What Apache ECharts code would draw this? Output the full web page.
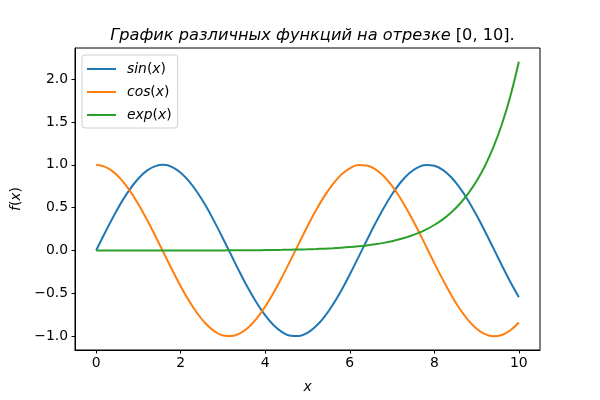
<!DOCTYPE html>
<html>
<head>
<meta charset="utf-8">
<script src="https://cdn.jsdelivr.net/npm/echarts@6/dist/echarts.min.js"></script>
<style>html,body{margin:0;padding:0;background:#fff;}#c{width:600px;height:400px;}</style>
</head>
<body>
<div id="c"></div>
<script>
var xs = [0,0.2,0.4,0.6,0.8,1.0,1.2,1.4,1.6,1.8,2.0,2.2,2.4,2.6,2.8,3.0,3.2,3.4,3.6,3.8,4.0,4.2,4.4,4.6,4.8,5.0,5.2,5.4,5.6,5.8,6.0,6.2,6.4,6.6,6.8,7.0,7.2,7.4,7.6,7.8,8.0,8.2,8.4,8.6,8.8,9.0,9.2,9.4,9.6,9.8,10.0];
var sinVals = [0,0.199,0.389,0.565,0.717,0.841,0.932,0.985,1.000,0.974,0.909,0.808,0.675,0.516,0.335,0.141,-0.058,-0.256,-0.443,-0.612,-0.757,-0.872,-0.952,-0.994,-0.996,-0.959,-0.883,-0.773,-0.631,-0.465,-0.279,-0.083,0.117,0.312,0.494,0.657,0.794,0.899,0.968,0.999,0.989,0.941,0.855,0.734,0.585,0.412,0.223,0.025,-0.174,-0.366,-0.544];
var cosVals = [1.000,0.980,0.921,0.825,0.697,0.540,0.362,0.170,-0.029,-0.227,-0.416,-0.589,-0.737,-0.857,-0.942,-0.990,-0.998,-0.967,-0.897,-0.791,-0.654,-0.490,-0.307,-0.112,0.087,0.284,0.469,0.635,0.776,0.886,0.960,0.997,0.993,0.950,0.869,0.754,0.608,0.439,0.251,0.054,-0.146,-0.339,-0.519,-0.679,-0.811,-0.911,-0.975,-1.000,-0.985,-0.930,-0.839];
var expVals = [0.0001,0.0001,0.0001,0.0002,0.0002,0.0003,0.0003,0.0004,0.0005,0.0006,0.0007,0.0009,0.0011,0.0013,0.0016,0.0020,0.0025,0.0030,0.0037,0.0045,0.0055,0.0067,0.0081,0.0099,0.0122,0.0148,0.0181,0.0221,0.0270,0.0330,0.0403,0.0493,0.0602,0.0735,0.0898,0.1097,0.1339,0.1636,0.1998,0.2441,0.2981,0.3641,0.4447,0.5432,0.6634,0.8103,0.9897,1.2088,1.4765,1.8034,2.2026];
var seriesNames = ['sin(x)','cos(x)','exp(x)'];
var legendRich = {'sin(x)':'{i|sin}{n|(}{i|x}{n|)}','cos(x)':'{i|cos}{n|(}{i|x}{n|)}','exp(x)':'{i|exp}{n|(}{i|x}{n|)}'};
var xTicks = [0,2,4,6,8,10];
var yTicks = [-1.0,-0.5,0.0,0.5,1.0,1.5,2.0];
var colors = ['#1f77b4','#ff7f0e','#2ca02c'];

function pairs(v){ return xs.map(function(x,i){ return [x, v[i]]; }); }
var F = 'DejaVu Sans';
var chart = echarts.init(document.getElementById('c'), null, {renderer:'canvas'});
var richStyles = {
  i:{fontFamily:F,fontStyle:'italic',fontWeight:'normal',fontSize:13.9,color:'#000',lineHeight:17},
  n:{fontFamily:F,fontStyle:'normal',fontWeight:'normal',fontSize:13.9,color:'#000',lineHeight:17}
};
chart.setOption({
  animation:false,
  backgroundColor:'#fff',
  color:colors,
  title:{
    text:'{i|График различных функций на отрезке }{n|[0, 10].}',
    left:307.5, top:23, textAlign:'center',
    textStyle:{fontWeight:'normal',rich:{
      i:{fontFamily:F,fontStyle:'italic',fontWeight:'normal',fontSize:16.2,color:'#000'},
      n:{fontFamily:F,fontStyle:'normal',fontWeight:'normal',fontSize:16.2,color:'#000'}
    }}
  },
  grid:{left:75,right:60,top:48,bottom:50,show:true,borderColor:'#000',borderWidth:1,backgroundColor:'transparent'},
  legend:{
    orient:'vertical', left:82, top:55,
    padding:[7,6,6,5],
    icon:'rect',
    itemWidth:29, itemHeight:2, itemGap:9,
    backgroundColor:'rgba(255,255,255,0.8)', borderColor:'#d0d0d0', borderWidth:1, borderRadius:3,
    data:seriesNames,
    formatter:function(n){ return legendRich[n]; },
    textStyle:{padding:[0,0,0,6],rich:richStyles}
  },
  xAxis:{
    type:'value', min:-0.5, max:10.5,
    name:'{i|x}', nameLocation:'middle', nameGap:29,
    nameTextStyle:{rich:richStyles},
    axisLine:{show:true,onZero:false,lineStyle:{color:'#000',width:1}},
    axisTick:{show:true,length:3.5,customValues:xTicks,lineStyle:{color:'#000',width:1}},
    axisLabel:{customValues:xTicks,margin:6,color:'#000',fontFamily:F,fontSize:13.9,formatter:function(v){return String(v);}},
    splitLine:{show:false}
  },
  yAxis:{
    type:'value', min:-1.16, max:2.363,
    name:'{i|f}{n|(}{i|x}{n|)}', nameLocation:'middle', nameGap:48, nameRotate:90,
    nameTextStyle:{rich:richStyles},
    axisLine:{show:true,onZero:false,lineStyle:{color:'#000',width:1}},
    axisTick:{show:true,length:3.5,customValues:yTicks,lineStyle:{color:'#000',width:1}},
    axisLabel:{customValues:yTicks,margin:7,color:'#000',fontFamily:F,fontSize:13.9,formatter:function(v){return (v<0?'\u2212':'')+Math.abs(v).toFixed(1);}},
    splitLine:{show:false}
  },
  series:seriesNames.map(function(n,k){
    return {name:n,type:'line',data:pairs([sinVals,cosVals,expVals][k]),symbol:'none',showSymbol:false,smooth:0.4,
      lineStyle:{width:2,color:colors[k]},itemStyle:{color:colors[k]},clip:true};
  })
});
</script>
</body>
</html>
